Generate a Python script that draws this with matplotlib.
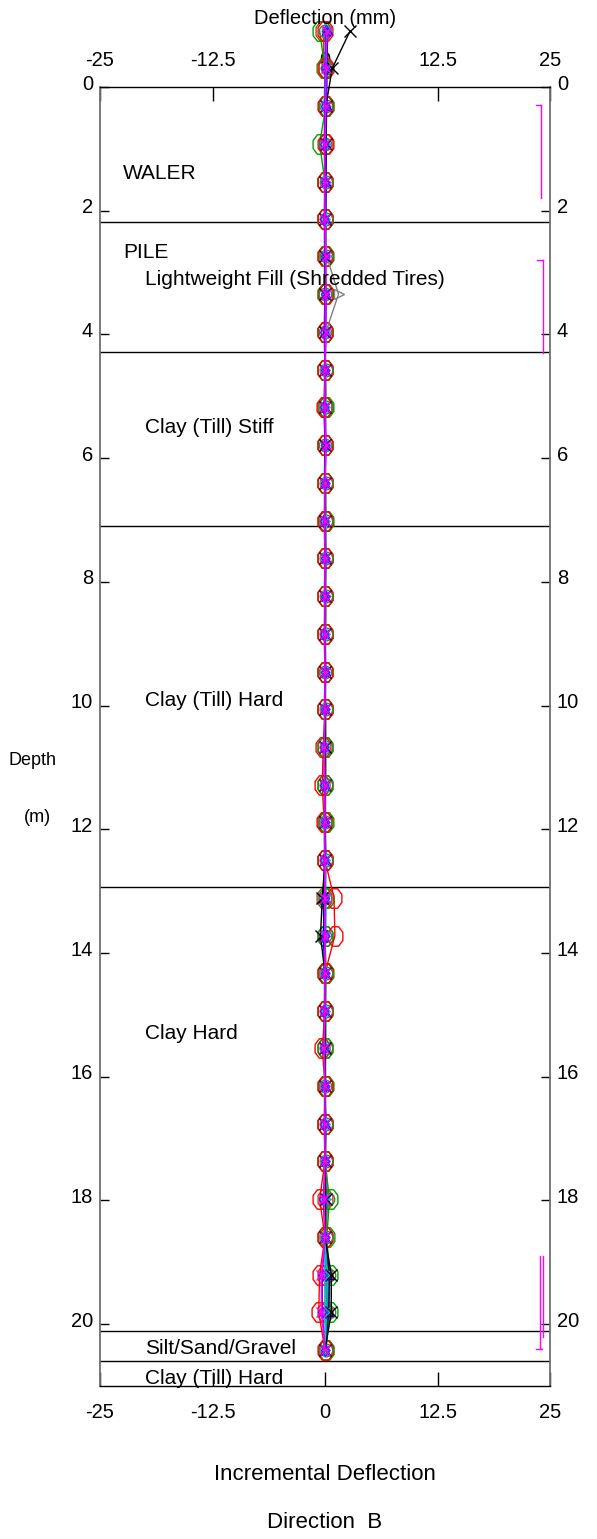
import numpy as np
import matplotlib.pyplot as plt
from matplotlib.transforms import ScaledTranslation

plt.rcParams['font.family'] = ['Liberation Sans', 'DejaVu Sans']

# Reading depths (m)
depth = [-0.91, -0.30, 0.31, 0.92, 1.53, 2.14, 2.74, 3.35, 3.96, 4.57, 5.18, 5.79,
         6.40, 7.01, 7.62, 8.23, 8.84, 9.45, 10.06, 10.67, 11.28, 11.89, 12.50, 13.11,
         13.72, 14.33, 14.94, 15.54, 16.15, 16.76, 17.37, 17.98, 18.59, 19.20, 19.81, 20.42]

# Incremental deflection (mm) for each reading
defl_red = [0.0, 0.1, 0.0, 0.1, 0.0, 0.0, 0.0, 0.1, 0.0, 0.0, -0.1, 0.0,
            0.0, 0.0, 0.0, 0.0, 0.0, 0.0, 0.0, -0.2, -0.3, -0.1, 0.0, 1.0,
            1.1, 0.0, 0.0, -0.3, 0.0, 0.0, 0.0, -0.6, 0.0, -0.6, -0.7, 0.0]
defl_green = [-0.6, 0.0, 0.1, -0.6, 0.0, 0.0, 0.1, 0.0, 0.0, 0.0, 0.1, 0.0,
              0.0, 0.1, 0.0, 0.0, 0.0, 0.0, 0.0, 0.0, 0.0, 0.1, 0.0, 0.1,
              0.0, 0.1, 0.0, 0.0, 0.1, 0.0, 0.0, 0.5, 0.2, 0.5, 0.5, 0.1]
defl_brown = [-0.2, -0.1, 0.1, 0.0, 0.0, 0.0, 0.0, 0.0, 0.0, 0.0, 0.0, 0.0,
              0.0, 0.0, 0.0, 0.0, 0.0, 0.0, 0.0, 0.0, 0.0, 0.0, 0.0, -0.1,
              0.0, 0.0, 0.0, 0.0, 0.0, 0.0, 0.0, 0.0, 0.0, 0.0, 0.0, 0.1]
defl_blue = [0.3, 0.2, 0.2, 0.1, 0.1, 0.1, 0.0, 0.1, 0.1, 0.0, 0.0, 0.1,
             0.0, 0.0, 0.1, 0.0, 0.0, 0.1, 0.0, 0.0, 0.0, 0.0, 0.1, 0.0,
             -0.2, 0.0, 0.0, 0.0, 0.0, 0.1, 0.0, 0.0, 0.0, 0.1, 0.2, 0.0]
defl_navy = [0.1, 0.1, 0.1, 0.1, 0.1, 0.0, 0.0, 0.0, 0.0, 0.0, 0.0, 0.0,
             0.0, 0.0, 0.0, 0.0, 0.0, 0.0, 0.0, 0.0, 0.0, 0.0, 0.0, -0.2,
             -0.1, 0.0, 0.0, 0.0, 0.0, 0.0, 0.0, 0.0, 0.0, 0.5, 0.4, 0.0]
defl_cyan = [0.1, 0.0, -0.1, 0.0, 0.0, 0.0, 0.0, 0.0, 0.0, 0.0, 0.0, 0.0,
             0.0, 0.0, 0.0, 0.0, 0.0, 0.0, 0.0, 0.0, 0.0, 0.0, 0.0, 0.0,
             0.0, 0.0, 0.0, 0.0, 0.0, 0.0, 0.0, 0.0, 0.0, 0.0, 0.0, 0.0]
defl_teal = [0.2, 0.1, 0.0, 0.1, -0.1, 0.0, -0.1, 0.0, 0.1, -0.1, 0.0, 0.0,
             -0.1, 0.0, 0.0, -0.1, 0.0, 0.0, -0.1, 0.0, 0.0, -0.1, 0.0, 0.1,
             0.1, -0.1, 0.0, 0.0, -0.1, 0.0, 0.0, 0.1, 0.0, 0.2, 0.2, 0.0]
defl_olive = [0.0, 0.2, 0.1, 0.0, 0.1, 0.1, 0.1, 0.0, 0.0, 0.1, 0.1, 0.0,
              0.1, 0.1, 0.1, 0.1, 0.1, 0.0, 0.1, 0.1, 0.1, 0.0, 0.1, 0.0,
              0.0, 0.1, 0.1, 0.1, 0.0, 0.1, 0.1, 0.3, 0.1, 0.4, 0.4, 0.1]
defl_gray = [0.2, 0.2, 0.1, 0.1, 0.1, 0.0, 0.2, 1.5, 0.1, 0.0, 0.0, 0.1,
             0.0, 0.0, 0.0, 0.1, 0.0, 0.0, 0.0, 0.0, 0.0, 0.0, 0.0, -0.2,
             0.0, 0.0, 0.0, 0.0, 0.0, 0.0, 0.0, 0.1, 0.0, 0.3, 0.3, 0.0]
defl_black = [2.8, 0.8, 0.1, 0.1, 0.0, 0.0, 0.0, 0.0, 0.0, 0.0, 0.0, 0.0,
              0.0, 0.0, 0.0, 0.0, 0.0, 0.0, 0.0, 0.0, 0.0, 0.0, 0.0, -0.3,
              -0.5, 0.0, 0.0, 0.0, 0.0, 0.0, 0.0, 0.1, 0.0, 0.7, 0.7, 0.0]
defl_violet = [0.1, 0.0, 0.0, -0.1, 0.0, -0.1, 0.0, 0.0, -0.1, 0.0, -0.1, 0.0,
               0.0, -0.1, 0.0, 0.0, -0.1, 0.0, 0.0, -0.1, -0.1, 0.0, -0.1, 0.0,
               0.0, 0.0, -0.1, -0.1, 0.0, -0.1, 0.0, -0.2, 0.0, -0.3, -0.3, 0.0]
defl_magenta = [0.2, 0.1, 0.1, 0.0, 0.0, 0.0, 0.1, 0.1, 0.1, 0.0, 0.0, 0.1,
                0.0, 0.0, 0.0, 0.0, 0.0, 0.0, 0.0, -0.1, 0.0, 0.0, 0.0, 0.0,
                0.0, 0.0, 0.0, -0.1, 0.0, 0.0, 0.0, -0.1, 0.0, -0.4, -0.4, 0.0]

# Soil layers
layer_bounds = [2.19, 4.29, 7.09, 12.94, 20.11, 20.60]
layer_names = ["WALER", "PILE", "Lightweight Fill (Shredded Tires)", "Clay (Till) Stiff",
               "Clay (Till) Hard", "Clay Hard", "Silt/Sand/Gravel", "Clay (Till) Hard"]
layer_label_x = [-22.4, -22.4, -20.0, -20.0, -20.0, -20.0, -20.0, -20.0]
layer_label_y = [1.40, 2.68, 3.12, 5.50, 9.92, 15.30, 20.39, 20.88]

# Magenta depth brackets at the right edge
bracket_x = [24.0, 24.2, 23.9, 24.2]
bracket_top = [0.29, 2.80, 18.90, 18.90]
bracket_bottom = [1.80, 4.30, 20.40, 20.20]

xticks = [-25, -12.5, 0, 12.5, 25]
xtick_labels = ["-25", "-12.5", "0", "12.5", "25"]
yticks = [0, 2, 4, 6, 8, 10, 12, 14, 16, 18, 20]

# stretched octagon marker (closed outline)
ang = np.deg2rad(22.5 + 45 * np.arange(9))
octagon = list(zip(0.38 * np.cos(ang), 0.5 * np.sin(ang)))

fig = plt.figure(figsize=(5.97, 15.39), dpi=100)
ax = fig.add_axes([100 / 597, 1 - 1386 / 1539, 450 / 597, 1299 / 1539])

series = [
    (defl_brown, "#b04818", octagon, 14),
    (defl_green, "#00a000", octagon, 14),
    (defl_red, "#ff0000", octagon, 14),
    (defl_olive, "#408040", "o", 9),
    (defl_gray, "#808080", ">", 7),
    (defl_navy, "#000080", "^", 6),
    (defl_blue, "#0000ff", "^", 6),
    (defl_teal, "#00c0a0", "v", 6),
    (defl_cyan, "#00d8d8", "d", 7),
    (defl_black, "#000000", "x", 8),
    (defl_violet, "#8000ff", "d", 6),
    (defl_magenta, "#ff00ff", "x", 7),
]
for vals, col, mk, ms in series:
    ax.plot(vals, depth, color=col, lw=1.0, marker=mk, ms=ms, mfc="none",
            mec=col, mew=1.0, clip_on=False, zorder=3)

for b in layer_bounds:
    ax.axhline(b, color="black", lw=1.0, zorder=2)

for name, lx, ly in zip(layer_names, layer_label_x, layer_label_y):
    ax.text(lx, ly, name, fontsize=15, ha="left", va="center", clip_on=False, zorder=4)

for bx, bt, bb in zip(bracket_x, bracket_top, bracket_bottom):
    ax.plot([bx, bx], [bt, bb], color="#ff00ff", lw=1.0, zorder=2)
ax.plot([23.4, 24.0], [0.29, 0.29], color="#ff00ff", lw=1.0)
ax.plot([23.6, 24.2], [2.80, 2.80], color="#ff00ff", lw=1.0)
ax.plot([23.4, 24.1], [20.40, 20.40], color="#ff00ff", lw=1.0)

ax.set_xlim(-25, 25)
ax.set_ylim(21, 0)
ax.set_xticks(xticks)
ax.set_xticklabels(xtick_labels)
ax.set_yticks(yticks)
ax.set_yticklabels([str(t) for t in yticks])
ax.tick_params(axis="x", direction="in", length=10, width=1, top=True, bottom=True,
               labeltop=True, labelbottom=True, pad=12, labelsize=14.5)
ax.tick_params(axis="y", direction="in", length=6.5, width=1, left=True, right=True,
               labelleft=True, labelright=True, pad=5, labelsize=14.5)
for t in ax.yaxis.get_major_ticks():
    off = ScaledTranslation(0, 5 / 100, fig.dpi_scale_trans)
    t.label1.set_transform(t.label1.get_transform() + off)
    t.label2.set_transform(t.label2.get_transform() + off)

for side in ["left", "right"]:
    ax.spines[side].set_color("#707070")
    ax.spines[side].set_linewidth(1.3)
for side in ["top", "bottom"]:
    ax.spines[side].set_color("black")
    ax.spines[side].set_linewidth(1.0)

fig.text(325 / 597, 1 - 19 / 1539, "Deflection (mm)", fontsize=14.5, ha="center", va="center")
fig.text(32 / 597, 1 - 761 / 1539, "Depth", fontsize=13, ha="center", va="center")
fig.text(37 / 597, 1 - 818 / 1539, "(m)", fontsize=13, ha="center", va="center")
fig.text(325 / 597, 1 - 1475 / 1539, "Incremental Deflection", fontsize=16, ha="center", va="center")
fig.text(325 / 597, 1 - 1523 / 1539, "Direction  B", fontsize=16, ha="center", va="center")

fig.savefig("out.png", dpi=100)
